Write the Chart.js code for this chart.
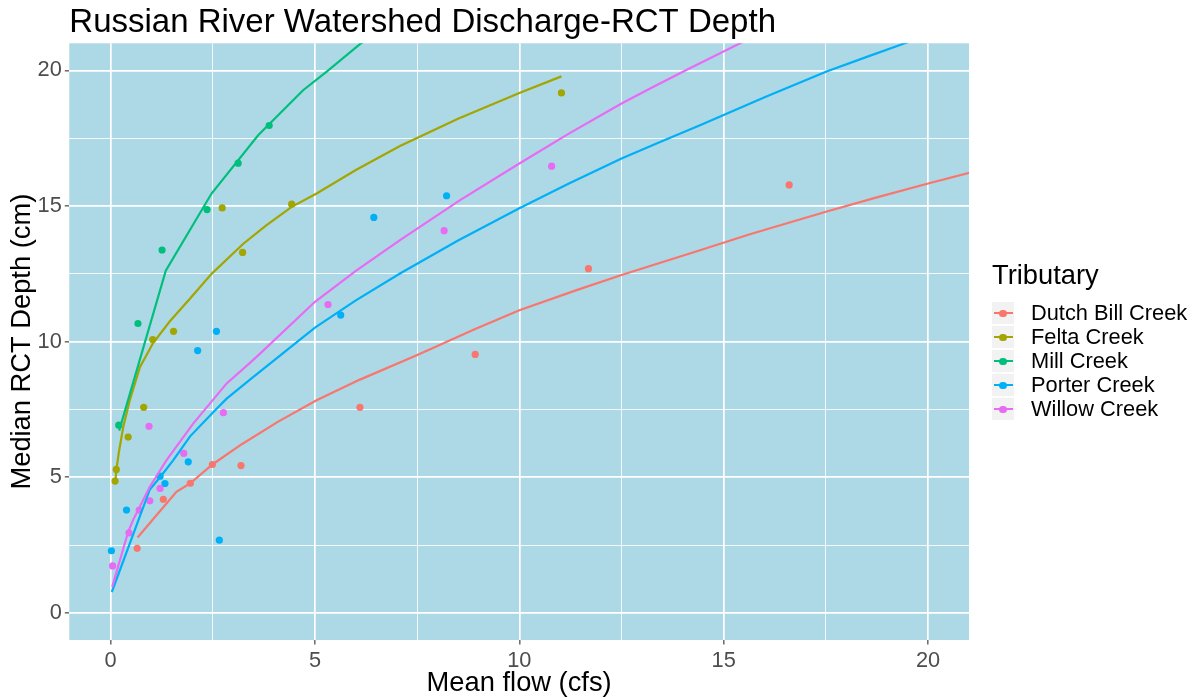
<!DOCTYPE html>
<html>
<head>
<meta charset="utf-8">
<title>Russian River Watershed Discharge-RCT Depth</title>
<script src="https://cdn.jsdelivr.net/npm/chart.js@4.4.1/dist/chart.umd.min.js"></script>
<style>
  body { margin: 0; background: #fff; }
  #wrap { position: relative; width: 1197px; height: 698px; }
  #legend { position: absolute; left: 992px; top: 259px; font-family: "Liberation Sans", Arial, sans-serif; color: #000; }
  #legend .ttl { font-size: 27.3px; line-height: 32px; height: 32px; margin-bottom: 10px; white-space: nowrap; }
  #legend .row { display: flex; align-items: center; height: 24px; white-space: nowrap; }
  #legend .key { position: relative; width: 22px; height: 22px; background: #f2f2f2; margin-right: 17px; flex: none; }
  #legend .ln { position: absolute; left: 2px; right: 1px; top: 10px; height: 2.2px; }
  #legend .dot { position: absolute; left: 7.4px; top: 7.5px; width: 7.2px; height: 7.2px; border-radius: 50%; }
  #legend .lbl { font-size: 21.8px; line-height: 24px; }
</style>
</head>
<body>
<div id="wrap">
  <canvas id="chart" width="1197" height="698"></canvas>
  <div id="legend"></div>
</div>
<script>
const tributaries = ['Dutch Bill Creek', 'Felta Creek', 'Mill Creek', 'Porter Creek', 'Willow Creek'];
const colours = ['#F8766D', '#A3A500', '#00BF7D', '#00B0F6', '#E76BF3'];

// observed sites: mean flow (cfs) and median RCT depth (cm)
const dutchFlow = [0.65, 1.29, 1.95, 2.49, 3.19, 6.10, 8.92, 11.69, 16.60];
const dutchDepth = [2.38, 4.19, 4.78, 5.47, 5.43, 7.58, 9.53, 12.69, 15.78];
const feltaFlow = [0.11, 0.14, 0.43, 0.81, 1.03, 1.54, 2.73, 3.23, 4.43, 11.03];
const feltaDepth = [4.86, 5.29, 6.48, 7.58, 10.08, 10.38, 14.93, 13.29, 15.07, 19.17];
const millFlow = [0.20, 0.67, 1.26, 2.36, 3.12, 3.88];
const millDepth = [6.92, 10.67, 13.38, 14.87, 16.58, 17.97];
const porterFlow = [0.02, 0.39, 1.21, 1.33, 1.90, 2.13, 2.59, 2.66, 5.63, 6.44, 8.22];
const porterDepth = [2.29, 3.79, 5.04, 4.77, 5.57, 9.67, 10.38, 2.68, 10.98, 14.58, 15.38];
const willowFlow = [0.05, 0.45, 0.70, 0.94, 0.96, 1.21, 1.79, 2.76, 5.32, 8.16, 10.79];
const willowDepth = [1.73, 2.95, 3.79, 6.88, 4.13, 4.59, 5.88, 7.38, 11.37, 14.09, 16.47];

// fitted curves
const dutchFitFlow = [0.66, 1.61, 1.94, 2.50, 3.20, 4.10, 5.04, 6.10, 7.49, 8.92, 10.00, 11.40, 12.50, 14.42, 15.64, 17.50, 18.70, 20.00, 21.50];
const dutchFitDepth = [2.78, 4.46, 4.77, 5.48, 6.21, 7.05, 7.84, 8.60, 9.50, 10.47, 11.16, 11.90, 12.46, 13.37, 13.96, 14.79, 15.30, 15.83, 16.42];
const feltaFitFlow = [0.11, 0.14, 0.20, 0.31, 0.47, 0.72, 1.04, 1.45, 1.94, 2.47, 3.24, 3.80, 4.43, 5.04, 6.00, 7.08, 8.50, 10.00, 11.03];
const feltaFitDepth = [4.75, 5.25, 5.90, 6.86, 7.84, 9.07, 9.95, 10.75, 11.58, 12.50, 13.60, 14.28, 14.97, 15.46, 16.33, 17.21, 18.22, 19.17, 19.78];
const millFitFlow = [0.21, 1.35, 2.47, 3.61, 4.71, 5.28, 6.10, 7.00];
const millFitDepth = [6.72, 12.62, 15.46, 17.61, 19.27, 19.95, 20.97, 21.90];
const porterFitFlow = [0.03, 0.96, 1.21, 1.53, 1.94, 2.51, 2.84, 3.41, 5.00, 6.00, 7.08, 8.50, 10.00, 11.20, 12.50, 13.50, 14.42, 16.00, 17.50, 18.50, 19.43, 20.50];
const porterFitDepth = [0.77, 4.55, 5.00, 5.62, 6.50, 7.40, 7.90, 8.60, 10.52, 11.52, 12.51, 13.73, 14.92, 15.82, 16.75, 17.40, 17.98, 19.01, 19.95, 20.50, 21.00, 21.55];
const willowFitFlow = [0.04, 0.43, 0.55, 0.96, 1.37, 2.02, 2.84, 3.41, 3.65, 5.00, 6.00, 7.08, 8.55, 10.00, 11.20, 12.50, 13.20, 14.00, 15.40, 16.50];
const willowFitDepth = [0.96, 2.99, 3.42, 4.65, 5.63, 6.98, 8.46, 9.22, 9.55, 11.47, 12.61, 13.74, 15.22, 16.57, 17.66, 18.78, 19.33, 19.95, 21.00, 21.80];

const xTicks = [0, 5, 10, 15, 20];
const xTickLabels = ['0', '5', '10', '15', '20'];
const xMinor = [2.5, 7.5, 12.5, 17.5];
const yTicks = [0, 5, 10, 15, 20];
const yTickLabels = ['0', '5', '10', '15', '20'];
const yMinor = [2.5, 7.5, 12.5, 17.5];

const observed = [[dutchFlow, dutchDepth], [feltaFlow, feltaDepth], [millFlow, millDepth], [porterFlow, porterDepth], [willowFlow, willowDepth]];
const fitted = [[dutchFitFlow, dutchFitDepth], [feltaFitFlow, feltaFitDepth], [millFitFlow, millFitDepth], [porterFitFlow, porterFitDepth], [willowFitFlow, willowFitDepth]];

function pairs(xs, ys) {
  return xs.map(function(x, i) { return {x: x, y: ys[i]}; });
}

const lineSets = [];
const pointSets = [];
tributaries.forEach(function(name, i) {
  lineSets.unshift({
    label: name + ' fit',
    data: pairs(fitted[i][0], fitted[i][1]),
    showLine: true,
    borderColor: colours[i],
    borderWidth: 2.2,
    pointRadius: 0,
    tension: 0,
    clip: 0
  });
  pointSets.unshift({
    label: name,
    data: pairs(observed[i][0], observed[i][1]),
    backgroundColor: colours[i],
    borderWidth: 0,
    pointRadius: 3.6
  });
});

const panelBackground = {
  id: 'panelBackground',
  beforeDraw(chart) {
    const a = chart.chartArea;
    const ctx = chart.ctx;
    ctx.save();
    ctx.fillStyle = '#ADD8E6';
    ctx.fillRect(a.left, a.top, a.right - a.left, a.bottom - a.top);
    ctx.restore();
  }
};

function gridAxis(majors, labels, minors, min, max, titleText, titlePad, size) {
  return {
    type: 'linear',
    min: min,
    max: max,
    afterBuildTicks: function(scale) {
      scale.ticks = majors.concat(minors).sort(function(a, b) { return a - b; })
        .map(function(v) { return {value: v}; });
    },
    afterFit: size,
    border: { display: false },
    grid: {
      color: '#ffffff',
      lineWidth: function(c) { return majors.indexOf(c.tick.value) >= 0 ? 1.7 : 0.85; },
      tickLength: 4.5,
      tickWidth: 1.1,
      tickColor: function(c) { return majors.indexOf(c.tick.value) >= 0 ? '#333333' : 'rgba(0,0,0,0)'; }
    },
    ticks: {
      autoSkip: false,
      maxRotation: 0,
      color: '#4D4D4D',
      font: { size: 21.8 },
      padding: 3,
      callback: function(v) {
        const k = majors.indexOf(v);
        return k >= 0 ? labels[k] : '';
      }
    },
    title: {
      display: true,
      text: titleText,
      color: '#000000',
      font: { size: 27.3, lineHeight: 1.05 },
      padding: titlePad
    }
  };
}

Chart.defaults.font.family = '"Liberation Sans", Arial, sans-serif';

new Chart(document.getElementById('chart'), {
  type: 'scatter',
  data: { datasets: lineSets.concat(pointSets) },
  options: {
    responsive: false,
    animation: false,
    events: [],
    layout: { padding: { left: 0, right: 228, top: 0, bottom: 0 } },
    scales: {
      x: gridAxis(xTicks, xTickLabels, xMinor, -1.01, 21.0, 'Mean flow (cfs)', { top: 0, bottom: 0 }, function(s) { s.height = 58; }),
      y: gridAxis(yTicks, yTickLabels, yMinor, -1.0, 21.0, 'Median RCT Depth (cm)', { top: 8, bottom: 0 }, function(s) { s.width = 69.3; })
    },
    plugins: {
      legend: { display: false },
      tooltip: { enabled: false },
      title: {
        display: true,
        text: 'Russian River Watershed Discharge-RCT Depth',
        align: 'start',
        fullSize: false,
        color: '#000000',
        font: { size: 33, weight: 'normal' },
        padding: { top: 3, bottom: 0.7 }
      }
    }
  },
  plugins: [panelBackground]
});

// legend (same tributaries and colours as the datasets)
const legend = document.getElementById('legend');
const ttl = document.createElement('div');
ttl.className = 'ttl';
ttl.textContent = 'Tributary';
legend.appendChild(ttl);
tributaries.forEach(function(name, i) {
  const row = document.createElement('div');
  row.className = 'row';
  row.innerHTML = '<div class="key"><div class="ln" style="background:' + colours[i] + '"></div>' +
    '<div class="dot" style="background:' + colours[i] + '"></div></div><span class="lbl"></span>';
  row.querySelector('.lbl').textContent = name;
  legend.appendChild(row);
});
</script>
</body>
</html>
